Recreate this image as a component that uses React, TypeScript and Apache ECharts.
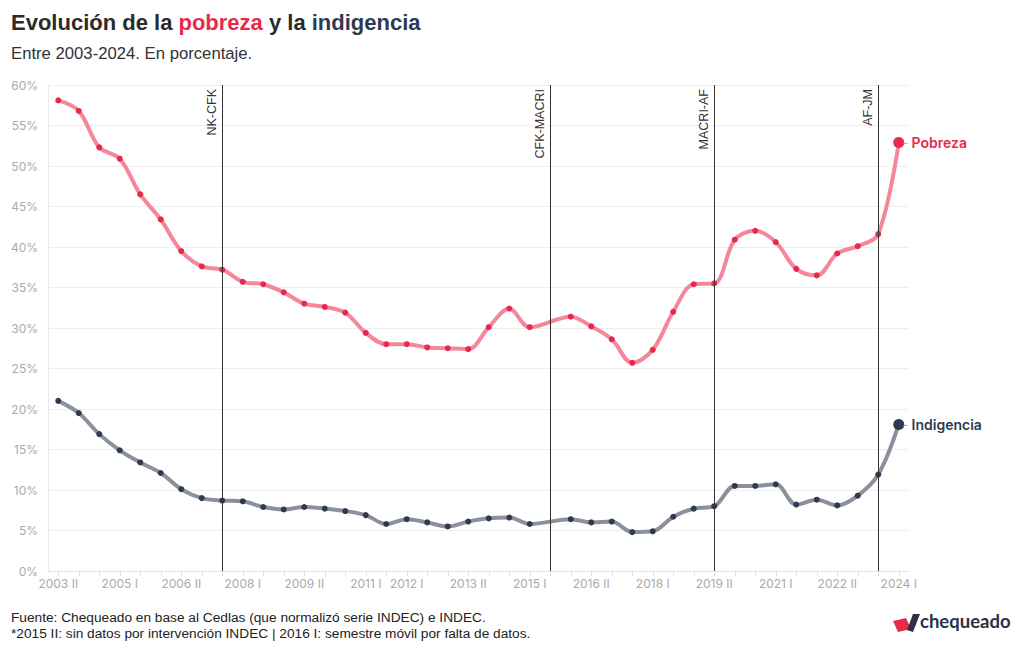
import React, { useEffect, useRef } from "react";
import * as echarts from "echarts";

const categories: string[] = [];
for (let y = 2003; y <= 2024; y++) {
  if (y > 2003) categories.push(`${y} I`);
  if (y < 2024) categories.push(`${y} II`);
}

const pobreza: (number | null)[] = [
  58.1, 56.8, 52.3, 50.9, 46.5, 43.4, 39.5, 37.6, 37.2, 35.7,
  35.4, 34.4, 33.0, 32.6, 31.9, 29.4, 28.0, 28.0, 27.6, 27.5,
  27.4, 30.1, 32.4, 30.1, null, 31.4, 30.2, 28.6, 25.7, 27.3,
  32.0, 35.4, 35.5, 40.9, 42.0, 40.6, 37.3, 36.5, 39.2, 40.1,
  41.6, 52.9,
];

const indigencia: (number | null)[] = [
  21.0, 19.5, 16.9, 14.9, 13.4, 12.1, 10.1, 9.0, 8.7, 8.6,
  7.9, 7.6, 7.9, 7.7, 7.4, 6.9, 5.8, 6.4, 6.0, 5.5,
  6.1, 6.5, 6.6, 5.8, null, 6.4, 6.0, 6.1, 4.8, 4.9,
  6.7, 7.7, 8.0, 10.5, 10.5, 10.7, 8.2, 8.8, 8.1, 9.3,
  11.9, 18.1,
];

const shownLabels = ["2003 II", "2005 I", "2006 II", "2008 I", "2009 II", "2011 I", "2012 I", "2013 II", "2015 I", "2016 II", "2018 I", "2019 II", "2021 I", "2022 II", "2024 I"];

const periods = [
  { at: "2007 II", name: "NK-CFK" },
  { at: "2015 II", name: "CFK-MACRI" },
  { at: "2019 II", name: "MACRI-AF" },
  { at: "2023 II", name: "AF-JM" },
];

const RED = "#e8294c";
const NAVY = "#2e3a52";

export default function App() {
  const ref = useRef<HTMLDivElement>(null);
  useEffect(() => {
    const chart = echarts.init(ref.current!, null, { renderer: "svg" });
    const last = categories.length - 1;
    const mkSeries = (name: string, data: (number | null)[], lineColor: string, dotColor: string, label: string, withMarks: boolean) => ({
      name,
      type: "line",
      data,
      smooth: 0.35,
      connectNulls: true,
      symbol: "circle",
      symbolSize: (_v: any, p: any) => (p.dataIndex === last ? 11 : 6),
      itemStyle: { color: dotColor },
      lineStyle: { color: lineColor, width: 4 },
      z: 3,
      endLabel: {
        show: true,
        formatter: `{d|-} {n|${label}}`,
        distance: 4,
        rich: {
          d: { color: "#aaa", fontSize: 12, fontFamily: "Inter" },
          n: { color: dotColor, fontSize: 14, fontWeight: 600, fontFamily: "Inter" },
        },
      },
      markLine: withMarks
        ? {
            silent: true,
            symbol: ["none", "none"],
            lineStyle: { color: "#333", width: 1, type: "solid" },
            label: {
              show: true,
              formatter: "{b}",
              position: "insideEndTop",
              color: "#333",
              fontSize: 12.5,
              fontFamily: "Liberation Sans",
              distance: 4,
            },
            data: periods.map((p) => ({ xAxis: p.at, name: p.name })),
          }
        : undefined,
    });

    chart.setOption({
      animation: false,
      backgroundColor: "#fff",
      grid: { left: 48, right: 111, top: 85, bottom: 79 },
      xAxis: {
        type: "category",
        data: categories,
        boundaryGap: true,
        axisLine: { show: true, lineStyle: { color: "#e3e3e3" } },
        axisTick: { show: true, alignWithLabel: true, interval: 0, length: 5, lineStyle: { color: "#e0e0e0" } },
        axisLabel: {
          interval: (i: number, v: string) => shownLabels.includes(v),
          color: "#aaa",
          fontSize: 12,
          fontFamily: "Inter",
          margin: 6,
        },
      },
      yAxis: {
        type: "value",
        min: 0,
        max: 60,
        interval: 5,
        axisLine: { show: true, lineStyle: { color: "#eaeaea" } },
        axisTick: { show: false },
        splitLine: { lineStyle: { color: "#eeeeee" } },
        axisLabel: { formatter: "{value}%", color: "#aaa", fontSize: 12, fontFamily: "Inter", margin: 10 },
      },
      title: [
        {
          text: "{a|Evolución de la }{p|pobreza}{a| y la }{i|indigencia}",
          left: 11,
          top: 11,
          padding: 0,
          textStyle: {
            rich: {
              a: { fontSize: 22, fontWeight: 700, color: "#2b2b2b", fontFamily: "Liberation Sans" },
              p: { fontSize: 22, fontWeight: 700, color: RED, fontFamily: "Liberation Sans" },
              i: { fontSize: 22, fontWeight: 700, color: NAVY, fontFamily: "Liberation Sans" },
            },
          },
        },
        {
          text: "Entre 2003-2024. En porcentaje.",
          left: 11,
          top: 45,
          padding: 0,
          textStyle: { fontSize: 16.7, fontWeight: 400, color: "#333", fontFamily: "Liberation Sans" },
        },
      ],
      graphic: [
        {
          type: "text",
          left: 11,
          top: 610,
          style: {
            text: "Fuente: Chequeado en base al Cedlas (que normalizó serie INDEC) e INDEC.\n*2015 II: sin datos por intervención INDEC | 2016 I: semestre móvil por falta de datos.",
            fontSize: 13.7,
            lineHeight: 15.5,
            fill: "#222",
            fontFamily: "Liberation Sans",
          },
        },
        { type: "polygon", shape: { points: [[893, 621], [906, 618], [911, 629], [898, 632]] }, style: { fill: RED } },
        { type: "polygon", shape: { points: [[907, 630], [913, 614], [920, 614], [913, 632]] }, style: { fill: "#2b3245" } },
        {
          type: "text",
          left: 920,
          top: 611,
          style: { text: "chequeado", fontSize: 18.5, fontWeight: 700, fill: "#2b3245", fontFamily: "Lato" },
        },
      ],
      series: [
        mkSeries("Pobreza", pobreza, "#f4879a", RED, "Pobreza", true),
        mkSeries("Indigencia", indigencia, "#8b909b", NAVY, "Indigencia", false),
      ],
    });
    return () => chart.dispose();
  }, []);
  return <div ref={ref} style={{ width: 1020, height: 650, position: "absolute", left: 0, top: 0 }} />;
}
